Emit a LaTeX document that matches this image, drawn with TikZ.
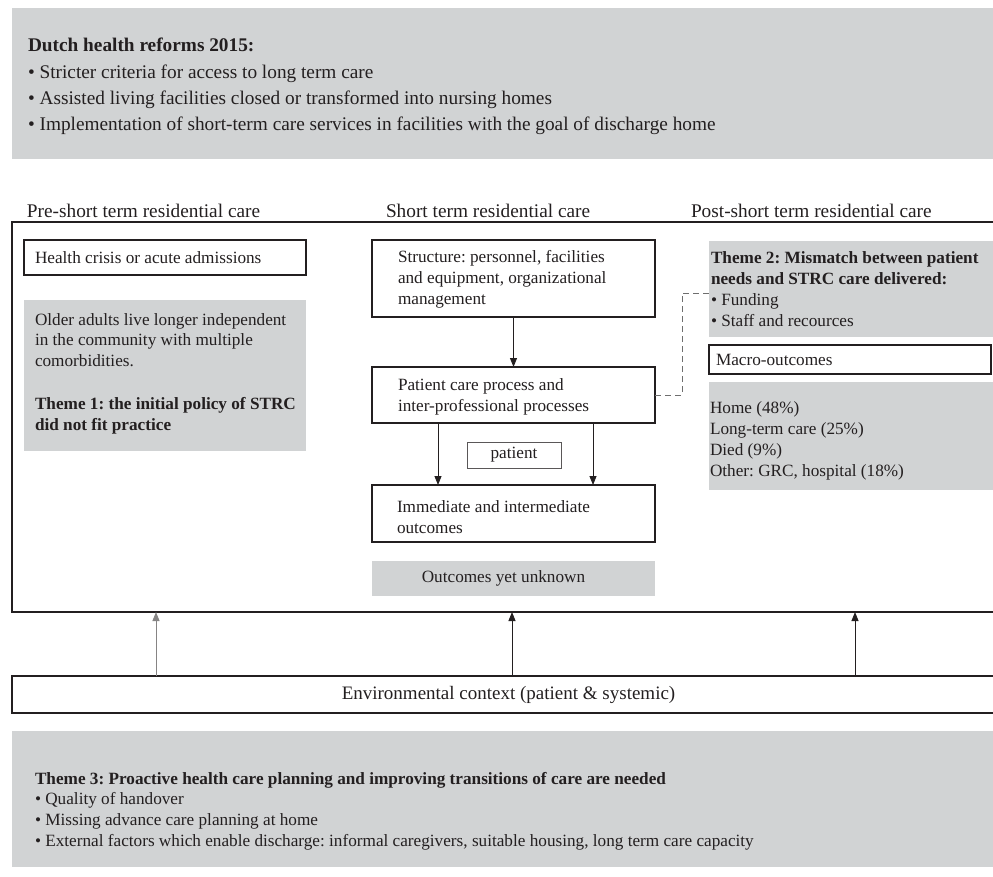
\documentclass[tikz,border=0pt]{standalone}
\usepackage{fontspec}
\setmainfont{Liberation Serif}
\usetikzlibrary{arrows.meta,calc}
\definecolor{gbg}{RGB}{209,211,212}
\definecolor{edge}{RGB}{35,31,32}
\definecolor{dashc}{RGB}{110,110,110}
\frenchspacing
\begin{document}
\frenchspacing
\begin{tikzpicture}[x=1pt,y=-1pt,
  every node/.style={inner sep=0pt, outer sep=0pt},
  bigtxt/.style={font=\fontsize{19.3}{26.3}\selectfont, text=edge},
  smtxt/.style={font=\fontsize{17.2}{20.8}\selectfont, text=edge},
  envtxt/.style={font=\fontsize{19}{22}\selectfont, text=edge},
  graybox/.style={fill=gbg, draw=none, anchor=north west, smtxt},
  wbox/.style={draw=edge, line width=1.1pt, fill=white, anchor=north west, smtxt},
  thickbox/.style={draw=edge, line width=2.4pt, anchor=north west, smtxt},
  txt/.style={anchor=west, align=left, smtxt},
  arr/.style={draw=edge, line width=0.9pt, -{Triangle[length=9pt,width=7pt]}},
  dashline/.style={draw=dashc, line width=1pt, dash pattern=on 6pt off 4pt}
]
\useasboundingbox (0,0) rectangle (993,876);

% top reforms box
\node[graybox, minimum width=981, minimum height=151] (reform) at (12,8) {};
\node[txt, bigtxt] (reformT) at ($(reform.west)+(16,3)$) {\textbf{Dutch health reforms 2015:}\\
\textbullet\ Stricter criteria for access to long term care\\
\textbullet\ Assisted living facilities closed or transformed into nursing homes\\
\textbullet\ Implementation of short-term care services in facilities with the goal of discharge home};

% column headers
\node[anchor=west, bigtxt] (hpre) at (27,211) {Pre-short term residential care};
\node[anchor=west, bigtxt] (hmid) at (386,211) {Short term residential care};
\node[anchor=west, bigtxt] (hpost) at (691,211) {Post-short term residential care};

% main frame
\node[thickbox, minimum width=985, minimum height=390] (frame) at (12,222) {};

% left column
\node[wbox, minimum width=282, minimum height=35] (hc) at (24,240) {};
\node[txt] (hcT) at ($(hc.west)+(11,0)$) {Health crisis or acute admissions};
\node[graybox, minimum width=282, minimum height=151] (t1) at (24,300) {};
\node[txt] (t1T) at ($(t1.west)+(11,-2)$) {Older adults live longer independent\\
in the community with multiple\\
comorbidities.\\[22pt]
\textbf{Theme 1: the initial policy of STRC}\\
\textbf{did not fit practice}};

% middle column
\node[wbox, minimum width=283, minimum height=77] (struct) at (372,240) {};
\node[txt] (structT) at ($(struct.west)+(26,1)$) {Structure: personnel, facilities\\
and equipment, organizational\\
management};
\node[wbox, minimum width=283, minimum height=56] (pcare) at (372,367) {};
\node[txt] (pcareT) at ($(pcare.west)+(26,2)$) {Patient care process and\\
inter-professional processes};
\node[wbox, draw=edge!75, line width=0.9pt, minimum width=94, minimum height=26] (patient) at (467,442) {patient};
\node[wbox, minimum width=283, minimum height=57] (immed) at (372,485) {};
\node[txt] (immedT) at ($(immed.west)+(25,4)$) {Immediate and intermediate\\
outcomes};
\node[graybox, minimum width=283, minimum height=35] (unknown) at (372,561) {};
\node[anchor=center, smtxt] (unknownT) at ($(unknown.center)+(-10,0)$) {Outcomes yet unknown};

\coordinate (c1) at (438,0);
\coordinate (c2) at (593,0);
\draw[arr] (struct.south) -- (pcare.north);
\draw[arr] (pcare.south -| c1) -- (immed.north -| c1);
\draw[arr] (pcare.south -| c2) -- (immed.north -| c2);

% right column
\node[graybox, minimum width=284, minimum height=96] (t2) at (709,241) {};
\node[txt] (t2T) at ($(t2.west)+(2,0)$) {\textbf{Theme 2: Mismatch between patient}\\
\textbf{needs and STRC care delivered:}\\
\textbullet\ Funding\\
\textbullet\ Staff and recources};
\node[wbox, minimum width=282, minimum height=29] (macro) at (709,345) {};
\node[txt] (macroT) at ($(macro.west)+(7,0)$) {Macro-outcomes};
\node[graybox, minimum width=284, minimum height=108] (outc) at (709,382) {};
\node[txt] (outcT) at ($(outc.west)+(1,5)$) {Home (48\%)\\
Long-term care (25\%)\\
Died (9\%)\\
Other: GRC, hospital (18\%)};

\draw[dashline] (pcare.east) -- ++(27,0) |- ($(t2.west)+(0,4)$);

% environmental context
\node[thickbox, minimum width=985, minimum height=37] (env) at (12,676) {};
\node[anchor=center, envtxt] (envT) at ($(env.center)+(4,0)$) {Environmental context (patient \& systemic)};
\coordinate (a1) at (156,0);
\coordinate (a2) at (512,0);
\coordinate (a3) at (855,0);
\draw[arr, draw=edge!55] (env.north -| a1) -- (frame.south -| a1);
\draw[arr] (env.north -| a2) -- (frame.south -| a2);
\draw[arr] (env.north -| a3) -- (frame.south -| a3);

% theme 3
\node[graybox, minimum width=981, minimum height=136] (t3) at (12,731) {};
\node[txt] (t3T) at ($(t3.west)+(23,12)$) {\textbf{Theme 3: Proactive health care planning and improving transitions of care are needed}\\
\textbullet\ Quality of handover\\
\textbullet\ Missing advance care planning at home\\
\textbullet\ External factors which enable discharge: informal caregivers, suitable housing, long term care capacity};
\end{tikzpicture}
\end{document}
